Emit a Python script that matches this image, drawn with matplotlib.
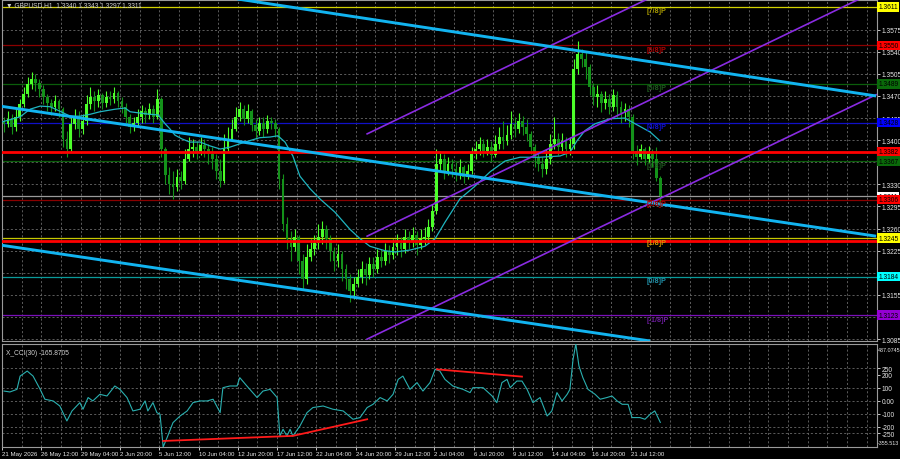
import numpy as np
import matplotlib
matplotlib.use('Agg')
import matplotlib.pyplot as plt
from matplotlib.transforms import blended_transform_factory

plt.rcParams['font.family'] = ['Liberation Sans Narrow', 'Liberation Sans', 'DejaVu Sans']

# GBPUSD H1, one candle per ~6 hours
first_open = 1.3430
closes = [1.3426, 1.3434, 1.3421, 1.3437, 1.3457, 1.3473, 1.3489, 1.3497, 1.3491, 1.3481,
          1.3468, 1.3459, 1.3453, 1.3462, 1.3449, 1.3402, 1.3386, 1.3426, 1.3437, 1.3418,
          1.3430, 1.3457, 1.3468, 1.3462, 1.3472, 1.3459, 1.3468, 1.3465, 1.3475, 1.3462,
          1.3453, 1.3437, 1.3421, 1.3427, 1.3437, 1.3446, 1.3440, 1.3449, 1.3437, 1.3465,
          1.3386, 1.3345, 1.3331, 1.3326, 1.3342, 1.3335, 1.3370, 1.3386, 1.3389, 1.3383,
          1.3392, 1.3386, 1.3378, 1.3370, 1.3351, 1.3335, 1.3386, 1.3402, 1.3418, 1.3437,
          1.3449, 1.3434, 1.3446, 1.3424, 1.3415, 1.3427, 1.3418, 1.3430, 1.3427, 1.3418,
          1.3339, 1.3267, 1.3244, 1.3231, 1.3247, 1.3209, 1.3180, 1.3215, 1.3228, 1.3237,
          1.3247, 1.3259, 1.3244, 1.3225, 1.3209, 1.3220, 1.3196, 1.3180, 1.3161, 1.3172,
          1.3183, 1.3196, 1.3187, 1.3204, 1.3196, 1.3215, 1.3209, 1.3225, 1.3218, 1.3231,
          1.3237, 1.3228, 1.3247, 1.3240, 1.3250, 1.3234, 1.3244, 1.3247, 1.3263, 1.3288,
          1.3362, 1.3370, 1.3351, 1.3362, 1.3354, 1.3347, 1.3358, 1.3342, 1.3351, 1.3378,
          1.3386, 1.3394, 1.3383, 1.3389, 1.3377, 1.3394, 1.3405, 1.3399, 1.3408, 1.3426,
          1.3418, 1.3430, 1.3421, 1.3410, 1.3389, 1.3373, 1.3362, 1.3354, 1.3370, 1.3394,
          1.3402, 1.3389, 1.3399, 1.3386, 1.3394, 1.3513, 1.3537, 1.3529, 1.3516, 1.3484,
          1.3468, 1.3473, 1.3459, 1.3465, 1.3453, 1.3472, 1.3453, 1.3443, 1.3449, 1.3437,
          1.3383, 1.3373, 1.3386, 1.3370, 1.3378, 1.3370, 1.3340, 1.3311]
highs = [1.3437, 1.3446, 1.3441, 1.3449, 1.3465, 1.3484, 1.3500, 1.3508, 1.3505, 1.3497,
         1.3488, 1.3473, 1.3465, 1.3472, 1.3465, 1.3453, 1.3415, 1.3437, 1.3449, 1.3446,
         1.3441, 1.3472, 1.3484, 1.3478, 1.3481, 1.3475, 1.3478, 1.3478, 1.3484, 1.3478,
         1.3468, 1.3459, 1.3441, 1.3437, 1.3449, 1.3456, 1.3453, 1.3459, 1.3456, 1.3481,
         1.3468, 1.3389, 1.3358, 1.3351, 1.3354, 1.3351, 1.3386, 1.3405, 1.3402, 1.3399,
         1.3405, 1.3402, 1.3394, 1.3389, 1.3378, 1.3370, 1.3410, 1.3421, 1.3434, 1.3453,
         1.3461, 1.3456, 1.3457, 1.3449, 1.3434, 1.3437, 1.3437, 1.3440, 1.3437, 1.3434,
         1.3421, 1.3347, 1.3278, 1.3256, 1.3259, 1.3250, 1.3220, 1.3236, 1.3244, 1.3250,
         1.3267, 1.3272, 1.3266, 1.3250, 1.3231, 1.3236, 1.3225, 1.3204, 1.3188, 1.3183,
         1.3196, 1.3209, 1.3205, 1.3215, 1.3215, 1.3228, 1.3228, 1.3237, 1.3234, 1.3244,
         1.3251, 1.3247, 1.3259, 1.3256, 1.3263, 1.3256, 1.3259, 1.3263, 1.3275, 1.3299,
         1.3386, 1.3383, 1.3378, 1.3373, 1.3370, 1.3366, 1.3370, 1.3361, 1.3362, 1.3389,
         1.3399, 1.3405, 1.3402, 1.3402, 1.3399, 1.3408, 1.3421, 1.3430, 1.3424, 1.3446,
         1.3437, 1.3443, 1.3438, 1.3434, 1.3415, 1.3394, 1.3383, 1.3373, 1.3386, 1.3410,
         1.3437, 1.3411, 1.3411, 1.3405, 1.3405, 1.3529, 1.3557, 1.3545, 1.3541, 1.3521,
         1.3491, 1.3488, 1.3478, 1.3478, 1.3473, 1.3481, 1.3478, 1.3462, 1.3459, 1.3456,
         1.3441, 1.3392, 1.3394, 1.3389, 1.3391, 1.3386, 1.3389, 1.3343]
lows = [1.3413, 1.3421, 1.3410, 1.3415, 1.3430, 1.3453, 1.3468, 1.3481, 1.3478, 1.3468,
        1.3457, 1.3446, 1.3440, 1.3446, 1.3437, 1.3389, 1.3373, 1.3383, 1.3418, 1.3405,
        1.3410, 1.3424, 1.3449, 1.3446, 1.3453, 1.3449, 1.3453, 1.3456, 1.3459, 1.3453,
        1.3443, 1.3424, 1.3411, 1.3415, 1.3421, 1.3427, 1.3427, 1.3434, 1.3427, 1.3434,
        1.3373, 1.3331, 1.3315, 1.3307, 1.3320, 1.3323, 1.3331, 1.3367, 1.3373, 1.3370,
        1.3377, 1.3373, 1.3362, 1.3354, 1.3339, 1.3326, 1.3332, 1.3383, 1.3399, 1.3415,
        1.3430, 1.3424, 1.3427, 1.3415, 1.3402, 1.3408, 1.3405, 1.3411, 1.3418, 1.3405,
        1.3323, 1.3256, 1.3228, 1.3209, 1.3225, 1.3188, 1.3164, 1.3172, 1.3209, 1.3218,
        1.3228, 1.3236, 1.3228, 1.3209, 1.3193, 1.3199, 1.3177, 1.3164, 1.3144, 1.3148,
        1.3167, 1.3174, 1.3171, 1.3180, 1.3183, 1.3190, 1.3199, 1.3202, 1.3205, 1.3212,
        1.3218, 1.3215, 1.3221, 1.3228, 1.3231, 1.3218, 1.3228, 1.3234, 1.3237, 1.3256,
        1.3283, 1.3351, 1.3339, 1.3345, 1.3342, 1.3335, 1.3339, 1.3332, 1.3339, 1.3347,
        1.3370, 1.3377, 1.3373, 1.3377, 1.3367, 1.3373, 1.3386, 1.3386, 1.3392, 1.3402,
        1.3405, 1.3411, 1.3408, 1.3399, 1.3378, 1.3358, 1.3351, 1.3342, 1.3347, 1.3362,
        1.3386, 1.3377, 1.3383, 1.3373, 1.3377, 1.3386, 1.3505, 1.3516, 1.3497, 1.3472,
        1.3456, 1.3453, 1.3445, 1.3449, 1.3441, 1.3446, 1.3437, 1.3427, 1.3430, 1.3421,
        1.3370, 1.3361, 1.3370, 1.3361, 1.3366, 1.3358, 1.3335, 1.3297]

# moving average, read as points along the thin line
ma_bars = [-0.5, 4.1, 6.6, 9.2, 11.7, 14.2, 16.8, 19.3, 21.9, 24.4, 28.2, 30.8, 32.1, 34.6, 37.2,
           39.2, 41.0, 42.2, 43.5, 45.3, 47.3, 49.9, 52.4, 55.0, 57.5, 61.3, 65.1, 67.7, 69.7,
           71.5, 73.5, 75.3, 77.9, 80.4, 84.2, 88.0, 90.6, 93.1, 96.9, 99.5, 103.3, 107.1,
           109.7, 112.2, 116.0, 119.8, 123.7, 127.5, 131.3, 136.4, 141.5, 144.0, 145.8, 147.8,
           150.4, 154.2, 158.0, 160.6, 164.4, 166.9]
ma_vals = [1.3429, 1.3437, 1.3449, 1.3454, 1.3453, 1.3446, 1.3438, 1.3438, 1.3441, 1.3445,
           1.3449, 1.3451, 1.3445, 1.3443, 1.3441, 1.3440, 1.3426, 1.3418, 1.3408, 1.3402,
           1.3397, 1.3397, 1.3391, 1.3386, 1.3389, 1.3397, 1.3404, 1.3405, 1.3407, 1.3397,
           1.3375, 1.3343, 1.3323, 1.3307, 1.3286, 1.3259, 1.3244, 1.3232, 1.3225, 1.3223,
           1.3226, 1.3232, 1.3244, 1.3270, 1.3307, 1.3327, 1.3350, 1.3367, 1.3373, 1.3373,
           1.3375, 1.3381, 1.3399, 1.3415, 1.3426, 1.3434, 1.3435, 1.3426, 1.3413, 1.3399]

# CCI(30) sub window
cci_bars = [0, 1.5, 3.3, 4.1, 5.9, 7.4, 9.2, 10.4, 12.5, 14.2,
            16.0, 17.3, 19.3, 20.1, 21.4, 22.6, 24.4, 26.2, 28.2, 29.5,
            31.3, 32.8, 34.6, 35.9, 36.6, 37.9, 38.9, 39.7, 40.5, 41.5,
            43.0, 44.8, 46.6, 48.1, 49.9, 51.7, 53.2, 55.0, 55.7, 57.5,
            59.3, 60.0, 61.8, 64.4, 65.9, 67.7, 69.5, 70.2, 71.0, 72.0,
            72.8, 73.5, 75.3, 77.1, 78.6, 81.2, 83.7, 86.3, 88.8, 90.6,
            92.4, 93.9, 95.7, 97.5, 99.0, 100.3, 101.5, 103.3, 105.1, 106.6,
            108.4, 109.7, 110.9, 112.2, 114.2, 116.8, 118.6, 119.3, 121.9, 124.2,
            125.4, 126.7, 128.0, 128.8, 130.5, 131.8, 133.1, 134.6, 136.4, 138.2,
            139.4, 140.7, 142.0, 143.3, 144.0, 144.8, 145.5, 146.3, 147.3, 148.6,
            150.4, 151.7, 153.4, 154.7, 156.0, 157.3, 158.8, 159.8, 161.8, 163.1,
            164.4, 165.6, 167.0]
cci_vals = [75, 68, 88, 190, 229, 190, 88, 12, -1, -40,
            -155, -78, -14, -65, 25, -1, 50, 37, 114, 88,
            25, -78, -65, -1, -78, -14, -91, -104, -355.5, -283,
            -168, -117, -78, -14, -1, -1, 12, -91, 101, 114,
            114, 178, 114, 25, 75, 88, 25, -271, -219, -271,
            -219, -271, -194, -91, -52, -40, -65, -78, -142, -129,
            -52, -27, 25, -1, 50, 165, 190, 88, 140, 75,
            140, 242, 229, 165, 114, 88, 63, 101, 101, 37,
            -14, 140, 165, 101, 152, 152, 88, -14, 25, -117,
            -78, 63, -1, 50, 88, 319, 437.07, 268, 178, 88,
            50, 12, 25, 37, -1, -27, -27, -129, -129, -142,
            -104, -78, -165.87]
cci_low_line_x = [40.5, 73.5, 92.4]
cci_low_line_y = [-309, -270, -142]
cci_high_line_x = [110.2, 131.8]
cci_high_line_y = [242, 186]

# Murrey math levels
mm_prices = [1.3611, 1.3550, 1.3489, 1.3428, 1.3367, 1.3306, 1.3245, 1.3184, 1.3123]
mm_names = ['[7/8]P', '[6/8]P', '[5/8]P', '[4/8]P', '[3/8]P', '[2/8]P', '[1/8]P', '[0/8]P', '[-1/8]P']
mm_line_col = ['#D2D200', '#8B0000', '#0B5E0B', '#1010C8', '#0B5E0B', '#8B0000', '#C8C800', '#0A9A9A', '#7A10B8']
mm_text_col = ['#A89A00', '#B00000', '#1E5A1E', '#1010D0', '#1E5A1E', '#B00000', '#D89A00', '#2090A8', '#6A1B9A']
mm_box_col = ['#FFFF00', '#FF0000', '#0A6A0A', '#0000FF', '#0A6A0A', '#FF0000', '#FFFF00', '#00FFFF', '#9400D3']
red_levels = [1.3382, 1.3240]
bid_price = 1.3311

# hand drawn trend lines (bar, price)
trend_top_x, trend_top_y = [59.0, 221.9], [1.3624, 1.3470]
trend_mid_x, trend_mid_y = [-1.0, 221.9], [1.3454, 1.3248]
trend_low_x, trend_low_y = [-1.0, 164.4], [1.3234, 1.3082]
chan_up_x, chan_up_y = [92.4, 163.9], [1.3410, 1.3624]
chan_mid_x, chan_mid_y = [92.4, 217.8], [1.3248, 1.3624]
chan_low_x, chan_low_y = [92.4, 221.9], [1.3085, 1.3472]

# scale labels; the ones hidden under level boxes are left out
price_grid = [1.3575, 1.3540, 1.3505, 1.3470, 1.3435, 1.3400, 1.3365, 1.3330, 1.3295,
              1.3260, 1.3225, 1.3190, 1.3155, 1.3120, 1.3085]
price_ticks = [1.3575, 1.3540, 1.3505, 1.3470, 1.3435, 1.3400, 1.3330, 1.3295,
               1.3260, 1.3225, 1.3155, 1.3085]
cci_ticks = [250, 200, 100, 0, -100, -200, -250]
cci_grid = [250, 100, 0, -100, -200, -250]
date_labels = ['21 May 2026', '26 May 12:00', '29 May 04:00', '2 Jun 20:00', '5 Jun 12:00',
               '10 Jun 04:00', '12 Jun 20:00', '17 Jun 12:00', '22 Jun 04:00', '24 Jun 20:00',
               '29 Jun 12:00', '2 Jul 04:00', '6 Jul 20:00', '9 Jul 12:00', '14 Jul 04:00',
               '16 Jul 20:00', '21 Jul 12:00']

TXT = '#E6E6E6'
GRID = '#6A6A6A'
UP, DN = '#4CFF2A', '#14921A'
FS = 4.8

fig = plt.figure(figsize=(9, 4.6), dpi=100, facecolor='black')
ax = fig.add_axes([2/900, 1 - 342/460, 875/900, 341/460], facecolor='black')
ax2 = fig.add_axes([2/900, 1 - 448/460, 875/900, 103/460], facecolor='black')

xmin, xmax = -0.51, 222.14
for a in (ax, ax2):
    a.set_xlim(xmin, xmax)
    for s in a.spines.values():
        s.set_color('#9A9A9A')
        s.set_linewidth(0.8)
    for gx in np.arange(-0.5, xmax, 5):
        a.axvline(gx, color=GRID, lw=0.6, ls=(0, (2.5, 2.5)), zorder=0)

# main window
ax.set_ylim(1.3082, 1.3622)
ax.yaxis.tick_right()
ax.set_yticks(price_ticks)
ax.set_yticklabels(['%.4f' % p for p in price_ticks])
ax.tick_params(axis='y', labelsize=FS, colors=TXT, length=2, pad=1.2, width=0.6)
ax.set_xticks([])
for p in price_grid:
    ax.axhline(p, color=GRID, lw=0.6, ls=(0, (2.5, 2.5)), zorder=0)

for p, col in zip(mm_prices, mm_line_col):
    ax.axhline(p, color=col, lw=0.9, zorder=1)
ax.axhline(bid_price, color='#9A9A9A', lw=0.9, zorder=1)

opens = [first_open] + closes[:-1]
o = np.array(opens)
c = np.array(closes)
bars = np.arange(len(c))
cols = [UP if cc >= oo else DN for oo, cc in zip(o, c)]
ax.vlines(bars, lows, highs, colors=cols, lw=0.8, zorder=3)
ax.bar(bars, np.maximum(np.abs(c - o), 0.00005), bottom=np.minimum(o, c),
       width=0.7, color=cols, linewidth=0, zorder=3)

ax.plot(ma_bars, ma_vals, color='#1FB5C0', lw=0.9, zorder=4)

for p in red_levels:
    ax.axhline(p, color='#FF0000', lw=2.0, zorder=4)

for xs, ys in [(chan_up_x, chan_up_y), (chan_mid_x, chan_mid_y), (chan_low_x, chan_low_y)]:
    ax.plot(xs, ys, color='#8A2BE2', lw=1.2, zorder=5)
for xs, ys in [(trend_top_x, trend_top_y), (trend_mid_x, trend_mid_y), (trend_low_x, trend_low_y)]:
    ax.plot(xs, ys, color='#12B4F0', lw=2.1, zorder=6, solid_capstyle='butt')

for p, name, col in zip(mm_prices, mm_names, mm_text_col):
    ax.text(163.4, p - 0.00008, name, color=col, fontsize=5.2, fontweight='bold',
            va='top', ha='left', zorder=7)

# price boxes on the right scale (bid box first, the 2/8 box sits over it)
tr = blended_transform_factory(ax.transAxes, ax.transData)
box_prices = [bid_price] + mm_prices + [red_levels[0]]
box_cols = ['#FFFFFF'] + mm_box_col + ['#FF0000']
for p, col in zip(box_prices, box_cols):
    ax.text(1.0015, p, '%.4f' % p, transform=tr, fontsize=FS, color='black',
            va='center', ha='left', clip_on=False, zorder=10,
            bbox=dict(boxstyle='square,pad=0.2', fc=col, ec='none'))

ax.text(0.004, 0.996, '\u25bc GBPUSD,H1  1.3340 1.3343 1.3297 1.3311', transform=ax.transAxes,
        fontsize=FS, color='#D0D0D0', va='top', ha='left', zorder=10)

# CCI window
ax2.set_ylim(-355.513, 437.0745)
for lv in cci_grid:
    ax2.axhline(lv, color=GRID, lw=0.6, ls=(0, (2.5, 2.5)), zorder=0)
ax2.plot(cci_bars, cci_vals, color='#2AB0B0', lw=0.8, zorder=3)
ax2.plot(cci_low_line_x, cci_low_line_y, color='#FF1A1A', lw=1.3, zorder=4)
ax2.plot(cci_high_line_x, cci_high_line_y, color='#FF1A1A', lw=1.3, zorder=4)
ax2.yaxis.tick_right()
ax2.set_yticks(cci_ticks)
ax2.set_yticklabels([('%.2f' % v) if v == 0 else str(v) for v in cci_ticks])
ax2.tick_params(axis='y', labelsize=FS, colors=TXT, length=2, pad=1.2, width=0.6)
ax2.text(1.001, 0.97, '437.0745', transform=ax2.transAxes, fontsize=3.9, color=TXT,
         va='top', ha='left', clip_on=False)
ax2.text(1.001, 0.02, '-355.513', transform=ax2.transAxes, fontsize=3.9, color=TXT,
         va='bottom', ha='left', clip_on=False)
ax2.text(0.004, 0.95, 'X_CCI(30) -165.8705', transform=ax2.transAxes, fontsize=FS,
         color='#D0D0D0', va='top', ha='left')

date_pos = np.arange(len(date_labels)) * 10 - 0.5
ax2.set_xticks(date_pos)
ax2.set_xticklabels(date_labels, ha='left')
ax2.tick_params(axis='x', labelsize=4.4, colors=TXT, length=2, pad=1, width=0.6)

fig.savefig('out.png', dpi=100, facecolor='black')
